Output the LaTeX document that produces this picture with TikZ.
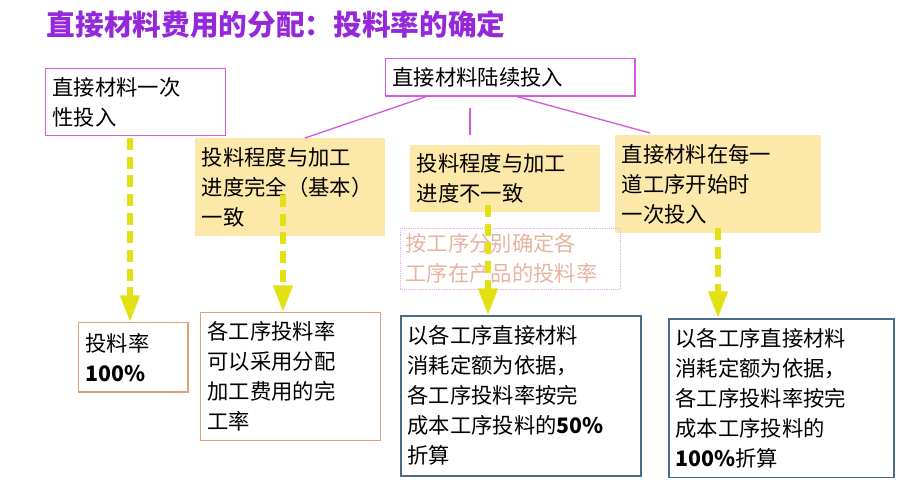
\documentclass[tikz,border=0pt]{standalone}
\usepackage{fontspec}
\setmainfont{Noto Sans CJK SC}
\newfontfamily\cjk{Noto Sans CJK SC}
\usetikzlibrary{arrows.meta}
\definecolor{titlepurple}{RGB}{150,40,220}
\definecolor{boxpurple}{RGB}{210,90,220}
\definecolor{paleyellow}{RGB}{252,232,168}
\definecolor{arrowyellow}{RGB}{225,225,20}
\definecolor{boxorange}{RGB}{225,160,120}
\definecolor{boxblue}{RGB}{70,110,140}
\definecolor{faintred}{RGB}{230,180,160}
\tikzset{
  txt/.style={anchor=north west,inner sep=5pt,align=left,font=\fontsize{16}{22.5}\selectfont},
  purplebox/.style={txt,draw=boxpurple,line width=1pt},
  yellowbox/.style={txt,fill=paleyellow},
  orangebox/.style={txt,draw=boxorange,line width=1pt},
  bluebox/.style={txt,draw=boxblue,line width=1.2pt},
  yarrow/.style={arrowyellow,line width=4pt,dash pattern=on 9pt off 5pt,-{Triangle[length=20pt,width=14pt]}},
  link/.style={boxpurple,line width=1pt}
}
\begin{document}
\begin{tikzpicture}[x=0.75pt,y=0.75pt,yscale=-1,xscale=1]
\useasboundingbox (0,0) rectangle (909,500);

% Title
\node[anchor=west,text=titlepurple,font=\fontsize{21.5}{24}\selectfont\bfseries] (title) at (42,25) {直接材料费用的分配：投料率的确定};

% Top boxes
\node[purplebox,text width=125pt,minimum height=50pt] (once) at (45,68) {直接材料一次\\性投入};
\node[purplebox,text width=177pt,minimum height=28pt] (cont) at (385,58) {直接材料陆续投入};

% Yellow boxes
\node[yellowbox,text width=132pt,minimum height=73pt] (full) at (195,138) {投料程度与加工\\进度完全（基本）\\一致};
\node[yellowbox,text width=132pt,minimum height=50pt] (part) at (410,145) {投料程度与加工\\进度不一致};
\node[yellowbox,text width=144pt,minimum height=73pt] (begin) at (615,135) {直接材料在每一\\道工序开始时\\一次投入};

% Links
\coordinate (c1) at (428,96);
\coordinate (c2) at (470,108);
\coordinate (c3) at (515,96);
\draw[link] (c1) -- (305,138);
\draw[link] (c2) -- (470,135);
\draw[link] (c3) -- (650,133);

% Dotted note
\node[txt,draw=boxpurple!50,densely dotted,text=faintred,text width=157pt,minimum height=44pt,inner sep=4pt] (note) at (400,228) {按工序分别确定各\\工序在产品的投料率};

% Bottom boxes
\node[orangebox,text width=72pt,minimum height=52pt] (rate) at (78,322) {投料率\\\textbf{100\%}};
\node[orangebox,text width=125pt,minimum height=96pt] (alloc) at (200,312) {各工序投料率\\可以采用分配\\加工费用的完\\工率};
\node[bluebox,text width=170pt,minimum height=120pt] (half) at (400,315) {以各工序直接材料\\消耗定额为依据，\\各工序投料率按完\\成本工序投料的\textbf{50\%}\\折算};
\node[bluebox,text width=159pt,minimum height=119pt] (whole) at (668,318) {以各工序直接材料\\消耗定额为依据，\\各工序投料率按完\\成本工序投料的\\\textbf{100\%}折算};

% Arrows
\draw[yarrow] (130,138) -- (rate.north -| 130,0);
\draw[yarrow] (283,195) -- (alloc.north -| 283,0);
\draw[yarrow] (488,205) -- (half.north -| 488,0);
\draw[yarrow] (718,228) -- (whole.north -| 718,0);
\end{tikzpicture}
\end{document}
